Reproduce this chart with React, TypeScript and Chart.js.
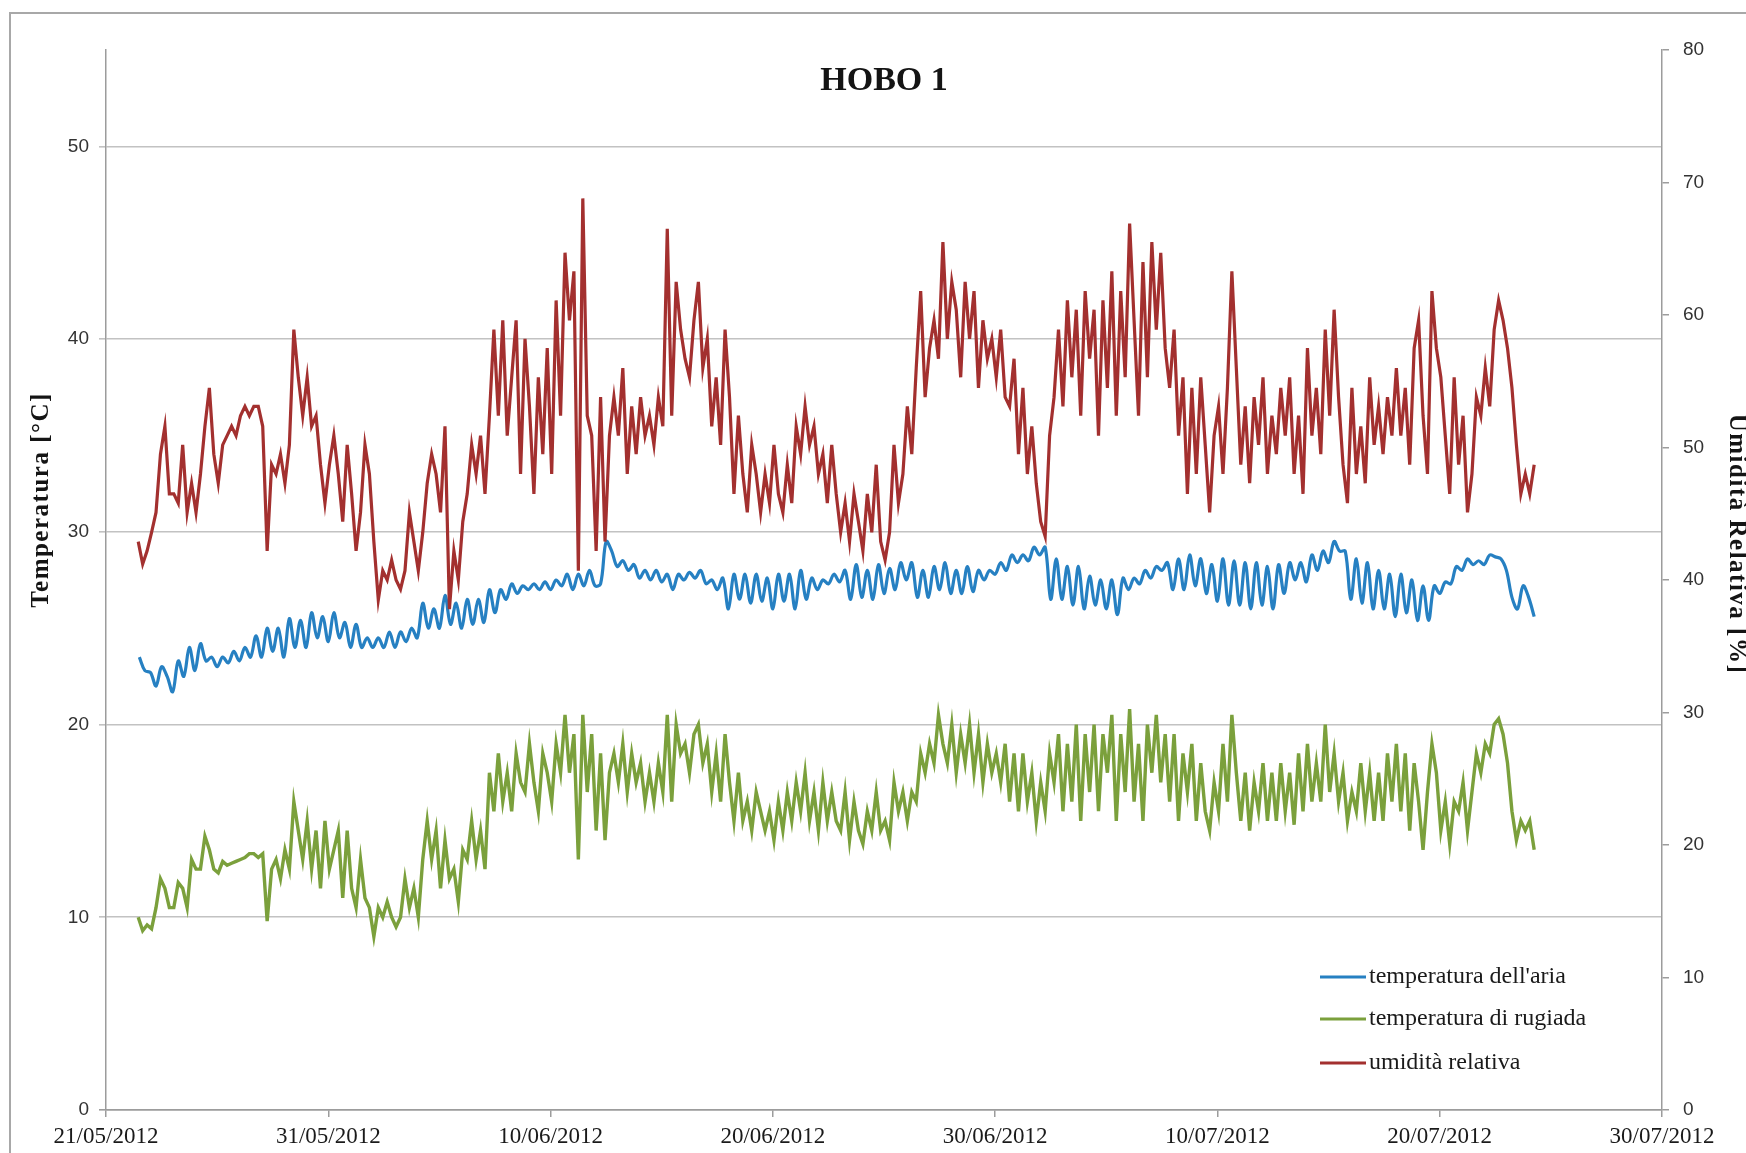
import { useEffect, useRef } from "react";
import { Chart, registerables } from "chart.js";

Chart.register(...registerables);

// ---------- DATA ----------
const chartTitle = "HOBO 1";
const leftAxisTitle = "Temperatura [°C]";
const rightAxisTitle = "Umidità Relativa [%]";
const xTickLabels = [
  "21/05/2012", "31/05/2012", "10/06/2012", "20/06/2012",
  "30/06/2012", "10/07/2012", "20/07/2012", "30/07/2012",
];
const seriesNames = ["temperatura dell'aria", "temperatura di rugiada", "umidità relativa"];
const seriesColors = ["#2680C2", "#7BA03C", "#A3302F"];

// days after 21/05/2012 00:00
const airTempStartDay = 1.5;
const airTempStepDay = 0.25;
const airTemp = [
  23.5, 22.8, 22.7, 22.0, 23.0, 22.5, 21.7, 23.3, 22.5, 24.0,
  22.8, 24.2, 23.3, 23.5, 23.0, 23.5, 23.2, 23.8, 23.3, 24.0,
  23.5, 24.6, 23.5, 25.0, 23.8, 25.0, 23.5, 25.5, 24.0, 25.4,
  24.0, 25.8, 24.5, 25.6, 24.3, 25.8, 24.5, 25.3, 24.0, 25.2,
  24.0, 24.5, 24.0, 24.5, 24.0, 24.8, 24.0, 24.8, 24.3, 25.0,
  24.5, 26.3, 25.0, 26.0, 25.0, 26.7, 25.2, 26.3, 25.0, 26.5,
  25.2, 26.5, 25.3, 27.0, 25.8, 27.0, 26.5, 27.3, 26.8, 27.2,
  27.0, 27.3, 27.0, 27.4, 27.0, 27.5, 27.2, 27.8, 27.0, 27.8,
  27.2, 28.0, 27.2, 27.3, 29.5, 29.0, 28.2, 28.5, 28.0, 28.3,
  27.6, 28.0, 27.5, 28.0, 27.4, 27.8, 27.0, 27.8, 27.5, 27.9,
  27.6, 28.0, 27.3, 27.5, 27.0, 27.6, 26.0, 27.8, 26.5, 27.8,
  26.3, 27.8, 26.4, 27.6, 26.0, 27.8, 26.4, 27.8, 26.0, 28.0,
  26.5, 27.6, 27.0, 27.5, 27.3, 27.8, 27.4, 28.0, 26.5, 28.3,
  26.6, 28.0, 26.5, 28.3, 26.8, 28.1, 27.0, 28.4, 27.5, 28.4,
  26.6, 28.0, 26.6, 28.2, 27.0, 28.4, 26.8, 28.0, 26.8, 28.2,
  26.9, 28.0, 27.5, 28.0, 27.8, 28.4, 28.0, 28.8, 28.4, 28.8,
  28.5, 29.2, 28.8, 29.2, 26.5, 28.6, 26.5, 28.2, 26.2, 28.2,
  26.0, 27.7, 26.2, 27.5, 26.0, 27.5, 25.7, 27.6, 27.0, 27.6,
  27.3, 28.0, 27.6, 28.2, 28.0, 28.4, 27.0, 28.6, 27.0, 28.8,
  27.2, 28.6, 26.8, 28.3, 26.4, 28.6, 26.2, 28.5, 26.2, 28.4,
  26.0, 28.4, 26.2, 28.2, 26.0, 28.3, 26.8, 28.4, 27.5, 28.4,
  27.4, 28.8, 28.0, 29.0, 28.4, 29.5, 29.0, 29.0, 26.5, 28.6,
  26.3, 28.4, 26.0, 28.0, 26.0, 27.8, 25.6, 27.8, 25.8, 27.5,
  25.4, 27.2, 25.4, 27.2, 26.8, 27.4, 27.3, 28.2, 28.0, 28.6,
  28.3, 28.5, 28.3, 28.8, 28.7, 28.6, 28.0, 26.6, 26.0, 27.2,
  26.6, 25.6,
];

const dewStartDay = 1.45;
const dewStepDay = 0.2;
const dewPoint = [
  10.0, 9.3, 9.6, 9.4, 10.5, 12.0, 11.5, 10.5, 10.5, 11.8,
  11.5, 10.5, 13.0, 12.5, 12.5, 14.2, 13.5, 12.5, 12.3, 12.9,
  12.7, 12.8, 12.9, 13.0, 13.1, 13.3, 13.3, 13.1, 13.3, 9.8,
  12.5, 13.0, 12.0, 13.5, 12.5, 16.0, 14.5, 13.0, 15.0, 12.5,
  14.5, 11.5, 15.0, 12.5, 13.5, 14.5, 11.0, 14.5, 11.5, 10.5,
  13.0, 11.0, 10.5, 9.0, 10.5, 10.0, 10.8, 10.0, 9.5, 10.0,
  12.0, 10.5, 11.5, 10.0, 13.0, 15.0, 13.0, 14.5, 11.5, 14.0,
  12.0, 12.5, 10.8, 13.5, 13.0, 15.0, 13.0, 14.5, 12.5, 17.5,
  15.5, 18.5, 16.0, 17.5, 15.5, 18.5, 17.0, 16.5, 19.0, 17.0,
  15.5, 18.5, 17.5, 16.0, 19.0, 17.5, 20.5, 17.5, 19.5, 13.0,
  20.5, 16.5, 19.5, 14.5, 18.5, 14.0, 17.5, 18.5, 17.0, 19.0,
  16.5, 18.5, 17.0, 18.0, 16.0, 17.5, 16.0, 18.0, 16.5, 20.5,
  16.0, 20.0, 18.5, 19.0, 17.5, 19.5, 20.0, 18.0, 19.0, 16.5,
  18.5, 16.0, 19.5, 17.0, 15.0, 17.5, 15.0, 16.0, 14.5, 16.5,
  15.5, 14.5, 15.5, 14.0, 16.0, 14.5, 16.5, 15.0, 17.0, 15.5,
  17.5, 15.0, 16.5, 14.5, 17.0, 15.0, 16.5, 15.0, 14.5, 16.5,
  14.0, 16.0, 14.5, 13.8, 15.5, 14.5, 16.5, 14.5, 15.0, 14.0,
  17.0, 15.5, 16.5, 15.0, 16.5, 16.0, 18.5, 17.5, 19.0, 18.0,
  20.5, 19.0, 18.0, 20.0, 17.5, 19.5, 18.0, 20.0, 17.5, 19.5,
  17.0, 19.0, 17.5, 18.5, 17.0, 19.0, 16.0, 18.5, 15.5, 18.5,
  16.0, 17.5, 15.0, 17.0, 15.5, 18.5, 17.0, 19.5, 15.5, 19.0,
  16.0, 20.0, 15.0, 19.5, 16.5, 20.0, 15.5, 19.5, 17.5, 20.5,
  15.0, 19.5, 16.5, 20.8, 16.0, 19.0, 15.0, 20.0, 17.5, 20.5,
  17.0, 19.5, 16.0, 19.5, 15.0, 18.5, 16.5, 19.0, 15.0, 18.0,
  15.5, 14.5, 17.0, 15.5, 19.0, 16.0, 20.5, 17.5, 15.0, 17.5,
  14.5, 17.0, 15.5, 18.0, 15.0, 17.5, 15.0, 18.0, 15.5, 17.5,
  14.8, 18.5, 15.5, 19.0, 16.0, 18.0, 16.0, 20.0, 16.5, 18.5,
  16.0, 17.5, 15.0, 16.5, 15.5, 18.0, 15.5, 17.5, 15.0, 17.5,
  15.0, 18.5, 16.0, 19.0, 15.5, 18.5, 14.5, 18.0, 16.0, 13.5,
  16.5, 19.0, 17.5, 14.5, 16.0, 13.8, 16.0, 15.5, 17.0, 14.5,
  16.5, 18.5, 17.5, 19.0, 18.5, 20.0, 20.3, 19.5, 18.0, 15.5,
  14.0, 15.0, 14.5, 15.0, 13.5,
];

const humStartDay = 1.45;
const humStepDay = 0.2;
const humidity = [
  42.9, 41.2, 42.2, 43.6, 45.1, 49.5, 51.6, 46.5, 46.5, 45.8,
  50.2, 45.1, 47.3, 45.1, 48.0, 51.6, 54.5, 49.5, 47.3, 50.2,
  50.9, 51.6, 50.9, 52.4, 53.1, 52.4, 53.1, 53.1, 51.6, 42.2,
  48.7, 48.0, 49.5, 47.3, 50.2, 58.9, 55.3, 52.4, 55.3, 51.6,
  52.4, 48.7, 45.8, 48.7, 50.9, 48.0, 44.4, 50.2, 46.5, 42.2,
  45.1, 50.2, 48.0, 42.9, 38.5, 40.7, 40.0, 41.5, 40.0, 39.3,
  40.7, 45.1, 42.9, 40.7, 43.6, 47.3, 49.5, 48.0, 45.1, 51.6,
  37.8, 42.2, 40.0, 44.4, 46.5, 50.2, 48.0, 50.9, 46.5, 52.4,
  58.9, 52.4, 59.6, 50.9, 55.3, 59.6, 48.0, 58.2, 53.1, 46.5,
  55.3, 49.5, 57.5, 48.0, 61.1, 52.4, 64.7, 59.6, 63.3, 40.7,
  68.8, 52.4, 50.9, 42.2, 53.8, 42.9, 50.9, 53.8, 50.9, 56.0,
  48.0, 53.1, 49.5, 53.8, 50.9, 52.4, 50.2, 53.8, 51.6, 66.5,
  52.4, 62.5, 58.9, 56.7, 55.3, 59.6, 62.5, 56.0, 58.2, 51.6,
  55.3, 50.2, 58.9, 53.8, 46.5, 52.4, 48.0, 45.1, 50.2, 48.0,
  45.1, 48.0, 45.8, 50.2, 46.5, 45.1, 48.7, 45.8, 51.6, 49.5,
  53.1, 50.2, 51.6, 48.0, 49.5, 45.8, 50.2, 46.5, 43.6, 45.8,
  42.9, 46.5, 44.4, 42.2, 46.5, 43.6, 48.7, 42.9, 41.5, 43.6,
  50.2, 45.8, 48.0, 53.1, 49.5, 56.0, 61.8, 53.8, 57.5, 59.6,
  56.7, 65.5, 58.2, 62.5, 60.4, 55.3, 62.5, 58.2, 61.8, 54.5,
  59.6, 56.7, 58.2, 55.3, 58.9, 53.8, 53.1, 56.7, 49.5, 54.5,
  48.0, 51.6, 47.3, 44.4, 43.3, 50.9, 53.8, 58.9, 53.1, 61.1,
  55.3, 60.4, 52.4, 61.8, 56.7, 60.4, 50.9, 61.1, 54.5, 63.3,
  52.4, 61.8, 55.3, 66.9, 59.6, 52.4, 64.0, 55.3, 65.5, 58.9,
  64.7, 57.5, 54.5, 58.9, 50.9, 55.3, 46.5, 54.5, 48.0, 55.3,
  50.2, 45.1, 50.9, 53.1, 48.0, 54.5, 63.3, 56.0, 48.7, 53.1,
  47.3, 53.8, 50.2, 55.3, 48.0, 52.4, 49.5, 54.5, 50.9, 55.3,
  48.0, 52.4, 46.5, 57.5, 50.9, 54.5, 49.5, 58.9, 52.4, 60.4,
  53.8, 48.7, 45.8, 54.5, 48.0, 51.6, 47.3, 55.3, 50.2, 53.1,
  49.5, 53.8, 50.9, 56.0, 50.9, 54.5, 48.7, 57.5, 59.6, 52.4,
  48.0, 61.8, 57.5, 55.3, 50.9, 46.5, 55.3, 48.7, 52.4, 45.1,
  48.0, 53.8, 52.4, 56.0, 53.1, 58.9, 61.1, 59.6, 57.5, 54.5,
  50.2, 46.5, 48.0, 46.5, 48.7,
];

const toPoints = (start: number, step: number, vals: number[]) =>
  vals.map((v, i) => ({ x: start + i * step, y: v }));

const SERIF = '"Liberation Serif", "Times New Roman", serif';
const SANS = '"Liberation Sans", Arial, sans-serif';

const overlayPlugin = {
  id: "overlayText",
  afterDraw(chart: any) {
    const { ctx, chartArea } = chart;
    const { left, right, top, bottom } = chartArea;
    ctx.save();
    ctx.fillStyle = "#141414";
    ctx.textBaseline = "middle";
    ctx.textAlign = "center";
    // title
    ctx.font = `bold 34px ${SERIF}`;
    ctx.fillText(chartTitle, (left + right) / 2, top + 31);
    // left axis title
    ctx.save();
    ctx.translate(left - 64, top + 450);
    ctx.rotate(-Math.PI / 2);
    ctx.font = `bold 25px ${SERIF}`;
    try { (ctx as any).letterSpacing = "1.5px"; } catch (e) {}
    ctx.fillText(leftAxisTitle, 0, 0);
    ctx.restore();
    // right axis title
    ctx.save();
    ctx.translate(right + 74, top + 494);
    ctx.rotate(Math.PI / 2);
    ctx.font = `bold 25px ${SERIF}`;
    try { (ctx as any).letterSpacing = "1.5px"; } catch (e) {}
    ctx.fillText(rightAxisTitle, 0, 0);
    ctx.restore();
    // legend
    const rows = [bottom - 133, bottom - 91, bottom - 47];
    const lx0 = right - 342;
    const lx1 = right - 296;
    ctx.textAlign = "left";
    ctx.font = `24px ${SERIF}`;
    rows.forEach((y, i) => {
      ctx.strokeStyle = seriesColors[i];
      ctx.lineWidth = 3;
      ctx.beginPath();
      ctx.moveTo(lx0, y);
      ctx.lineTo(lx1, y);
      ctx.stroke();
      ctx.fillStyle = "#1a1a1a";
      ctx.fillText(seriesNames[i], lx1 + 3, y);
    });
    ctx.restore();
  },
};

export default function App() {
  const canvasRef = useRef<HTMLCanvasElement | null>(null);

  useEffect(() => {
    const canvas = canvasRef.current;
    if (!canvas) return;
    const axisGray = "#9c9c9c";
    const chart = new Chart(canvas, {
      type: "line",
      data: {
        datasets: [
          {
            label: seriesNames[0],
            data: toPoints(airTempStartDay, airTempStepDay, airTemp),
            borderColor: seriesColors[0],
            borderWidth: 3.2,
            pointRadius: 0,
            tension: 0.35,
            yAxisID: "y",
            order: 2,
          },
          {
            label: seriesNames[1],
            data: toPoints(dewStartDay, dewStepDay, dewPoint),
            borderColor: seriesColors[1],
            borderWidth: 3.4,
            pointRadius: 0,
            tension: 0,
            yAxisID: "y",
            order: 1,
          },
          {
            label: seriesNames[2],
            data: toPoints(humStartDay, humStepDay, humidity),
            borderColor: seriesColors[2],
            borderWidth: 3.2,
            pointRadius: 0,
            tension: 0,
            yAxisID: "y1",
            order: 0,
          },
        ],
      },
      options: {
        animation: false,
        responsive: false,
        devicePixelRatio: 1,
        layout: { padding: { top: 50, left: 0, right: 0, bottom: 0 } },
        plugins: {
          legend: { display: false },
          tooltip: { enabled: false },
          title: { display: false },
        },
        scales: {
          x: {
            type: "linear",
            min: 0,
            max: 70,
            afterFit: (s: any) => { s.height = 43; },
            ticks: {
              stepSize: 10,
              autoSkip: false,
              maxRotation: 0,
              padding: 6,
              color: "#1a1a1a",
              font: { family: SERIF, size: 23 },
              callback: (v: any) => {
                const n = Number(v);
                return n % 10 === 0 ? xTickLabels[Math.round(n / 10)] : "";
              },
            },
            grid: {
              drawOnChartArea: false,
              drawTicks: true,
              tickLength: 7,
              color: axisGray,
              lineWidth: 1.5,
            },
            border: { display: true, color: axisGray, width: 1.5 },
          },
          y: {
            type: "linear",
            position: "left",
            min: 0,
            max: 55,
            afterFit: (s: any) => { s.width = 106; },
            ticks: {
              stepSize: 10,
              includeBounds: false,
              padding: 10,
              color: "#333333",
              font: { family: SANS, size: 19 },
            },
            grid: {
              drawTicks: true,
              tickLength: 7,
              color: (c: any) => (c.tick && c.tick.value === 0 ? axisGray : "#c2c2c2"),
              lineWidth: 1.6,
            },
            border: { display: true, color: axisGray, width: 1.5 },
          },
          y1: {
            type: "linear",
            position: "right",
            min: 0,
            max: 80,
            afterFit: (s: any) => { s.width = 84; },
            ticks: {
              stepSize: 10,
              padding: 14,
              color: "#333333",
              font: { family: SANS, size: 19 },
            },
            grid: {
              drawOnChartArea: false,
              drawTicks: true,
              tickLength: 7,
              color: axisGray,
              lineWidth: 1.5,
            },
            border: { display: true, color: axisGray, width: 1.5 },
          },
        },
      },
      plugins: [overlayPlugin],
    } as any);
    return () => chart.destroy();
  }, []);

  return (
    <div
      style={{
        position: "absolute",
        left: 0,
        top: 0,
        width: 1746,
        height: 1153,
        background: "#ffffff",
        overflow: "hidden",
      }}
    >
      <div
        style={{
          position: "absolute",
          left: 9,
          top: 12,
          width: 2000,
          height: 2000,
          borderLeft: "2px solid #a8a8a8",
          borderTop: "2px solid #a8a8a8",
        }}
      />
      <canvas
        ref={canvasRef}
        width={1746}
        height={1153}
        style={{ position: "absolute", left: 0, top: 0, width: 1746, height: 1153 }}
      />
    </div>
  );
}
